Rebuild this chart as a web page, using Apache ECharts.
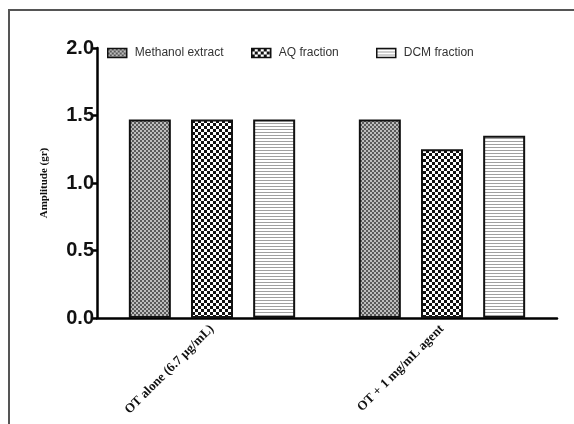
<!DOCTYPE html>
<html>
<head>
<meta charset="utf-8">
<script src="https://cdn.jsdelivr.net/npm/echarts@6/dist/echarts.min.js"></script>
<style>
  html, body { margin: 0; padding: 0; background: #fff; }
  #chart { width: 574px; height: 424px; }
</style>
</head>
<body>
<div id="chart"></div>
<script>
// Groups on the x axis
const categories = ['OT alone (6.7 µg/mL)', 'OT + 1 mg/mL agent'];
// Amplitude (gr) per treatment
const methanolExtract = [1.47, 1.47];
const aqFraction = [1.47, 1.25];
const dcmFraction = [1.47, 1.35];
const seriesNames = ['Methanol extract', 'AQ fraction', 'DCM fraction'];
const yTicks = { min: 0, max: 2, interval: 0.5 };

// Fill patterns drawn on small canvases
function makePattern(size, draw) {
  const c = document.createElement('canvas');
  c.width = size; c.height = size;
  const ctx = c.getContext('2d');
  draw(ctx, size);
  return { image: c, repeat: 'repeat' };
}
// fine grey stipple
const finePattern = makePattern(4, (ctx) => {
  ctx.fillStyle = '#bdbdbd'; ctx.fillRect(0, 0, 4, 4);
  ctx.fillStyle = '#5a5a5a';
  ctx.fillRect(0, 0, 2, 2); ctx.fillRect(2, 2, 2, 2);
});
// coarse black/white checkerboard
const checkPattern = makePattern(6, (ctx) => {
  ctx.fillStyle = '#fff'; ctx.fillRect(0, 0, 6, 6);
  ctx.fillStyle = '#111';
  ctx.fillRect(0, 0, 3, 3); ctx.fillRect(3, 3, 3, 3);
});
// horizontal lines
const stripePattern = makePattern(3, (ctx) => {
  ctx.fillStyle = '#fff'; ctx.fillRect(0, 0, 3, 3);
  ctx.fillStyle = '#a0a0a0'; ctx.fillRect(0, 0, 3, 1);
});

const fills = [finePattern, checkPattern, stripePattern];
const values = [methanolExtract, aqFraction, dcmFraction];

const chart = echarts.init(document.getElementById('chart'), null, { renderer: 'canvas' });

const legendLefts = [107, 251, 376];

const option = {
  backgroundColor: '#fff',
  animation: false,
  graphic: [{
    type: 'rect',
    shape: { x: 9, y: 10, width: 600, height: 440 },
    style: { fill: 'none', stroke: '#555', lineWidth: 2 },
    silent: true
  }],
  legend: seriesNames.map((name, i) => ({
    data: [{ name, icon: 'rect' }],
    left: legendLefts[i],
    top: 47,
    itemWidth: 19,
    itemHeight: 9,
    itemGap: 0,
    padding: 0,
    textStyle: {
      fontFamily: 'Liberation Sans, Arial, sans-serif',
      fontSize: 12,
      color: '#333',
      padding: [0, 0, 0, 3]
    },
    itemStyle: { borderColor: '#111', borderWidth: 1.5 }
  })),
  grid: { left: 97, right: 17, top: 48, bottom: 106, containLabel: false },
  xAxis: {
    type: 'category',
    data: categories,
    boundaryGap: true,
    axisLine: { lineStyle: { color: '#000', width: 2.5 } },
    axisTick: { alignWithLabel: true, length: 5, lineStyle: { color: '#000', width: 2.5 } },
    axisLabel: {
      rotate: 45,
      margin: 9,
      fontFamily: 'Liberation Serif, Times New Roman, serif',
      fontWeight: 'bold',
      fontSize: 13,
      color: '#111'
    }
  },
  yAxis: {
    type: 'value',
    min: yTicks.min,
    max: yTicks.max,
    interval: yTicks.interval,
    name: 'Amplitude (gr)',
    nameLocation: 'middle',
    nameGap: 47,
    nameRotate: 90,
    nameTextStyle: {
      fontFamily: 'Liberation Serif, Times New Roman, serif',
      fontWeight: 'bold',
      fontSize: 11,
      color: '#111'
    },
    axisLine: { show: true, lineStyle: { color: '#000', width: 2.5 } },
    axisTick: { show: true, length: 6, lineStyle: { color: '#000', width: 2.5 } },
    splitLine: { show: false },
    axisLabel: {
      margin: 3,
      fontFamily: 'Liberation Sans, Arial, sans-serif',
      fontWeight: 'bold',
      fontSize: 20,
      color: '#111',
      formatter: (v) => v.toFixed(1)
    }
  },
  series: seriesNames.map((name, i) => ({
    name,
    type: 'bar',
    data: values[i],
    barWidth: 42,
    barGap: '48%',
    itemStyle: { color: fills[i], borderColor: '#111', borderWidth: 2 }
  }))
};

chart.setOption(option);
</script>
</body>
</html>
